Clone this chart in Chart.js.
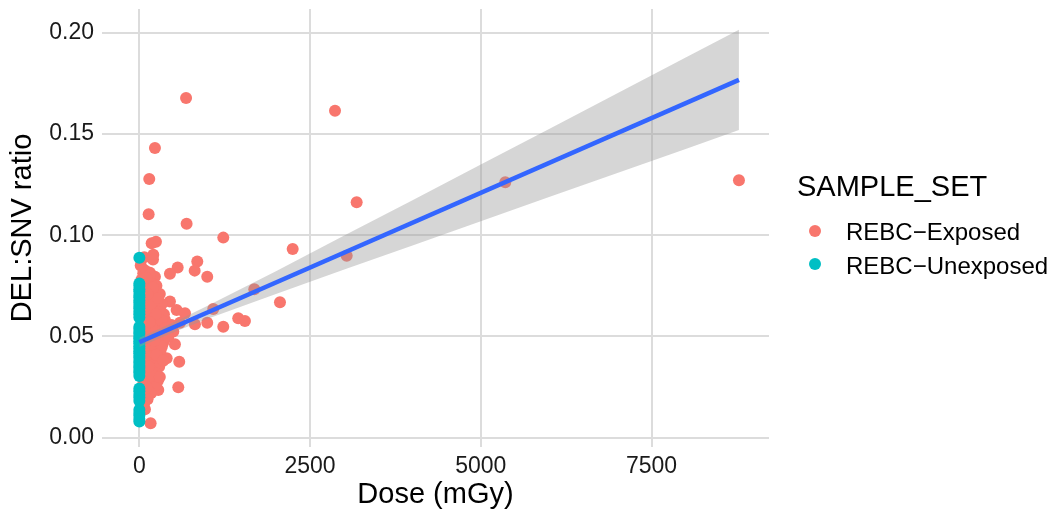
<!DOCTYPE html>
<html>
<head>
<meta charset="utf-8">
<script src="https://cdn.jsdelivr.net/npm/chart.js@4.4.1/dist/chart.umd.min.js"></script>
<style>
html, body { margin: 0; padding: 0; background: #fff; }
#wrap { position: relative; width: 1059px; height: 516px; font-family: "Liberation Sans", Arial, Helvetica, sans-serif; color: #000; }
#chart { position: absolute; left: 0; top: 0; }
.lg { position: absolute; white-space: nowrap; }
.lg-title { font-size: 29px; line-height: 29px; left: 797px; top: 172px; }
.lg-label { font-size: 24px; line-height: 24px; left: 846px; }
.lg-dot { position: absolute; width: 12px; height: 12px; border-radius: 50%; left: 809px; }
</style>
</head>
<body>
<div id="wrap">
  <canvas id="chart" width="1059" height="516"></canvas>
  <div class="lg lg-title">SAMPLE_SET</div>
  <div class="lg-dot" style="top:225px;background:#F8766D"></div>
  <div class="lg lg-label" style="top:220px">REBC−Exposed</div>
  <div class="lg-dot" style="top:258px;background:#00BFC4"></div>
  <div class="lg lg-label" style="top:254px">REBC−Unexposed</div>
</div>
<script>
// values
const exposedDose = [
    684, 2865, 228, 145, 136, 692, 3182, 5358, 8780, 1229, 3036, 2245, 180, 243, 72, 204,
    848, 561, 448, 810, 994, 57, 155, 228, 1683, 2059, 448, 546, 668, 1082, 814, 994,
    1229, 1448, 1546, 595, 497, 521, 584, 570, 165, 82, 400, 277, 375, 473, 277, 423,
    20, 60, 110, 150, 30, 90, 180, 250, 50, 130, 210, 300, 15, 80, 160, 240,
    330, 40, 120, 200, 280, 360, 25, 100, 175, 260, 340, 60, 140, 220, 300, 400,
    30, 110, 190, 270, 350, 70, 150, 230, 310, 20, 100, 180, 260, 50, 130, 210,
    290, 80, 160, 240, 30, 110, 190, 270, 60, 140, 220, 90, 170, 40, 120, 70,
    180, 320, 240, 90, 170, 50, 270, 200, 100, 380, 420, 330, 250, 350, 200, 140,
    60, 80, 150, 220, 120, 20, 200, 300, 100
];
const exposedRatio = [
    0.1677, 0.1614, 0.143, 0.1278, 0.1103, 0.1056, 0.1163, 0.1262, 0.1271, 0.0988, 0.0898, 0.0932, 0.096, 0.0968, 0.0891, 0.0903,
    0.087, 0.084, 0.0809, 0.0825, 0.0795, 0.0812, 0.0815, 0.0795, 0.0733, 0.0669, 0.0672, 0.0631, 0.0614, 0.0636, 0.056, 0.0568,
    0.0548, 0.059, 0.0576, 0.0568, 0.0524, 0.0461, 0.0375, 0.0249, 0.0071, 0.014, 0.0392, 0.0236, 0.0581, 0.0557, 0.0614, 0.0499,
    0.085, 0.083, 0.082, 0.0805, 0.078, 0.077, 0.076, 0.075, 0.074, 0.073, 0.072, 0.071, 0.070, 0.069, 0.068, 0.067,
    0.066, 0.065, 0.064, 0.063, 0.062, 0.061, 0.060, 0.059, 0.058, 0.057, 0.056, 0.055, 0.054, 0.053, 0.052, 0.0515,
    0.051, 0.050, 0.049, 0.048, 0.047, 0.046, 0.045, 0.044, 0.043, 0.042, 0.041, 0.040, 0.039, 0.038, 0.037, 0.036,
    0.035, 0.034, 0.033, 0.032, 0.031, 0.030, 0.029, 0.028, 0.027, 0.026, 0.025, 0.023, 0.022, 0.021, 0.019, 0.017,
    0.055, 0.058, 0.061, 0.063, 0.066, 0.068, 0.069, 0.074, 0.079, 0.054, 0.050, 0.045, 0.041, 0.038, 0.031, 0.035,
    0.044, 0.052, 0.057, 0.048, 0.071, 0.088, 0.088, 0.030, 0.025
];
const unexposedDose = [
    0, 0, 0, 0, 0, 0, 0, 0, 0, 0, 0, 0, 0, 0, 0, 0,
    0, 0, 0, 0, 0, 0, 0, 0, 0, 0, 0, 0, 0, 0, 0, 0,
    0, 0, 0, 0, 0, 0, 0, 0, 0, 0, 0, 0, 0
];
const unexposedRatio = [
    0.0889, 0.0762, 0.0749, 0.0733, 0.0722, 0.0705, 0.0694, 0.0678, 0.0666, 0.0651, 0.0639, 0.0623, 0.0609, 0.0594, 0.0548, 0.0537,
    0.0523, 0.0513, 0.0499, 0.0490, 0.0476, 0.0466, 0.0451, 0.0441, 0.0427, 0.0417, 0.0403, 0.0393, 0.0379, 0.0369, 0.0355, 0.0345,
    0.0331, 0.0321, 0.0305, 0.0243, 0.0229, 0.0212, 0.0198, 0.0181, 0.0138, 0.0122, 0.0109, 0.0092, 0.0080
];

// fitted line and its confidence band
const fitDose = [0, 8780];
const fitRatio = [0.0471, 0.1767];
const bandDose = [0, 500, 1000, 2000, 3000, 4000, 5000, 6000, 7000, 8000, 8780];
const bandLower = [0.0448, 0.0521, 0.0587, 0.0710, 0.0830, 0.0949, 0.1069, 0.1188, 0.1307, 0.1426, 0.1520];
const bandUpper = [0.0494, 0.0569, 0.0651, 0.0822, 0.0998, 0.1173, 0.1349, 0.1525, 0.1701, 0.1878, 0.2014];

const xTicks = [0, 2500, 5000, 7500];
const xTickLabels = ["0", "2500", "5000", "7500"];
const yTicks = [0, 0.05, 0.1, 0.15, 0.2];
const yTickLabels = ["0.00", "0.05", "0.10", "0.15", "0.20"];

function pairs(xs, ys) {
    return xs.map((x, i) => ({ x: x, y: ys[i] }));
}

const FONT = "'Liberation Sans', Arial, Helvetica, sans-serif";
const gridColor = "#DCDCDC";

document.addEventListener("DOMContentLoaded", () => {
    const ctx = document.getElementById("chart").getContext("2d");
    new Chart(ctx, {
        type: "scatter",
        data: {
            datasets: [
                {
                    label: "fit",
                    data: pairs(fitDose, fitRatio),
                    showLine: true,
                    pointRadius: 0,
                    borderColor: "#3366FF",
                    borderWidth: 4.5,
                    fill: false,
                    order: 0
                },
                {
                    label: "band lower",
                    data: pairs(bandDose, bandLower),
                    showLine: true,
                    pointRadius: 0,
                    borderColor: "transparent",
                    fill: false,
                    order: 1
                },
                {
                    label: "band upper",
                    data: pairs(bandDose, bandUpper),
                    showLine: true,
                    pointRadius: 0,
                    borderColor: "transparent",
                    backgroundColor: "rgba(153,153,153,0.4)",
                    fill: 1,
                    order: 1
                },
                {
                    label: "REBC-Unexposed",
                    data: pairs(unexposedDose, unexposedRatio),
                    pointRadius: 6,
                    pointBorderWidth: 0,
                    backgroundColor: "#00BFC4",
                    order: 2
                },
                {
                    label: "REBC-Exposed",
                    data: pairs(exposedDose, exposedRatio),
                    pointRadius: 6,
                    pointBorderWidth: 0,
                    backgroundColor: "#F8766D",
                    order: 3
                }
            ]
        },
        options: {
            responsive: false,
            animation: false,
            events: [],
            layout: { padding: { left: 0, right: 290, top: 9, bottom: 0 } },
            plugins: {
                legend: { display: false },
                tooltip: { enabled: false }
            },
            scales: {
                x: {
                    type: "linear",
                    min: -547,
                    max: 9220,
                    afterBuildTicks: (s) => { s.ticks = xTicks.map(v => ({ value: v })); },
                    afterFit: (s) => {
                        s.height = 69;
                        s.paddingLeft = 0;
                        s.paddingRight = 0;
                    },
                    grid: { color: gridColor, lineWidth: 2, drawTicks: false },
                    border: { display: false },
                    ticks: {
                        padding: 6,
                        color: "#1a1a1a",
                        font: { family: FONT, size: 23 },
                        callback: (v) => xTickLabels[xTicks.indexOf(v)]
                    },
                    title: {
                        display: true,
                        text: "Dose (mGy)",
                        color: "#000",
                        font: { family: FONT, size: 29 },
                        padding: { top: 0, bottom: 4 }
                    }
                },
                y: {
                    type: "linear",
                    min: -0.0046,
                    max: 0.2117,
                    afterBuildTicks: (s) => { s.ticks = yTicks.map(v => ({ value: v })); },
                    afterFit: (s) => {
                        s.width = 102;
                        s.paddingTop = 0;
                        s.paddingBottom = 0;
                    },
                    grid: { color: gridColor, lineWidth: 2, drawTicks: false },
                    border: { display: false },
                    ticks: {
                        padding: 8,
                        color: "#1a1a1a",
                        font: { family: FONT, size: 23 },
                        callback: (v) => yTickLabels[yTicks.indexOf(v)]
                    },
                    title: {
                        display: true,
                        text: "DEL:SNV ratio",
                        color: "#000",
                        font: { family: FONT, size: 29 },
                        padding: { top: 6, bottom: 0 }
                    }
                }
            }
        }
    });
});
</script>
</body>
</html>
